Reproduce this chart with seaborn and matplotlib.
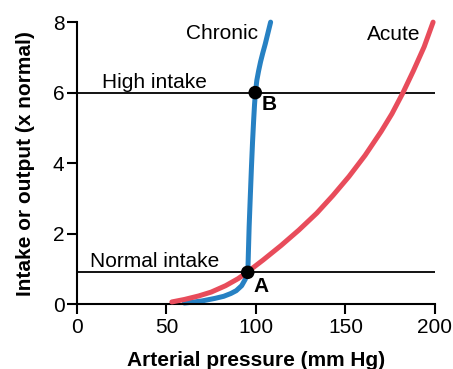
import numpy as np
import pandas as pd
import matplotlib
matplotlib.use("Agg")
import matplotlib.pyplot as plt
import seaborn as sns

# values
chronic_x = [60, 64, 70, 77, 82, 86, 89, 92, 94, 95.5, 95.8, 96.2, 96.8, 97.5, 98.1, 98.7, 99.2, 99.7,
             100.5, 101.5, 102.6, 103.8, 105.2, 106.6, 108.2]
chronic_y = [0.03, 0.05, 0.09, 0.16, 0.22, 0.30, 0.38, 0.52, 0.70, 0.95, 1.5, 2.2, 3.0, 3.9, 4.6, 5.2, 5.65, 6.0,
             6.35, 6.62, 6.88, 7.12, 7.38, 7.67, 8.0]

acute_x = [53, 60, 68, 75, 83, 90, 95, 104, 114, 124, 134, 143, 152, 161, 170, 176, 182, 188, 194, 199]
acute_y = [0.06, 0.13, 0.23, 0.34, 0.52, 0.72, 0.90, 1.25, 1.66, 2.10, 2.58, 3.08, 3.62, 4.22, 4.90, 5.40,
           5.98, 6.62, 7.30, 8.0]

intake_levels = [0.9, 6.0]
intake_labels = ["Normal intake", "High intake"]

point_labels = ["A", "B"]
point_x = [95.4, 99.6]
point_y = [0.9, 6.0]

x_ticks = [0, 50, 100, 150, 200]
y_ticks = [0, 2, 4, 6, 8]

blue = "#2781c3"
red = "#e84c5b"

sns.set_style("ticks")
plt.rcParams["font.family"] = ["Liberation Sans", "DejaVu Sans"]
plt.rcParams.update({"text.color": "black", "axes.labelcolor": "black",
                     "xtick.color": "black", "ytick.color": "black"})

fig = plt.figure(figsize=(4.53, 3.69), dpi=100)
ax = fig.add_axes([0.170, 0.176, 0.790, 0.764])

# intake lines
for lvl in intake_levels:
    ax.axhline(lvl, color="black", lw=1.3, zorder=1)

chronic = pd.DataFrame({"x": chronic_x, "y": chronic_y})
acute = pd.DataFrame({"x": acute_x, "y": acute_y})
sns.lineplot(data=chronic, x="x", y="y", color=blue, lw=3.6, estimator=None,
             sort=False, ax=ax, zorder=2, clip_on=False)
sns.lineplot(data=acute, x="x", y="y", color=red, lw=3.6, estimator=None,
             sort=False, ax=ax, zorder=3, clip_on=False)

# equilibrium points
pts = pd.DataFrame({"x": point_x, "y": point_y})
sns.scatterplot(data=pts, x="x", y="y", color="black", s=95, ax=ax,
                zorder=5, edgecolor="none", clip_on=False)

fs = 15
ax.text(101, 7.69, "Chronic", ha="right", va="center", fontsize=fs)
ax.text(192, 7.66, "Acute", ha="right", va="center", fontsize=fs)
ax.text(7, 1.06, intake_labels[0], ha="left", va="baseline", fontsize=fs)
ax.text(14, 6.12, intake_labels[1], ha="left", va="baseline", fontsize=fs)
ax.text(102.6, 0.51, point_labels[0], ha="center", va="center", fontsize=fs, fontweight="bold")
ax.text(107.3, 5.65, point_labels[1], ha="center", va="center", fontsize=fs, fontweight="bold")

ax.set_xlim(0, 200)
ax.set_ylim(0, 8)
ax.set_xticks(x_ticks)
ax.set_yticks(y_ticks)
ax.tick_params(labelsize=fs, length=7, width=1.5, pad=2, color="black", labelcolor="black")
ax.tick_params(axis="x", pad=3)
for s in ["left", "bottom"]:
    ax.spines[s].set_linewidth(1.5)
    ax.spines[s].set_color("black")
sns.despine(ax=ax)

ax.set_xlabel("Arterial pressure (mm Hg)", fontsize=fs, fontweight="bold", labelpad=10)
ax.set_ylabel("Intake or output (x normal)", fontsize=fs, fontweight="bold", labelpad=13)

fig.savefig("out.png", dpi=100)
